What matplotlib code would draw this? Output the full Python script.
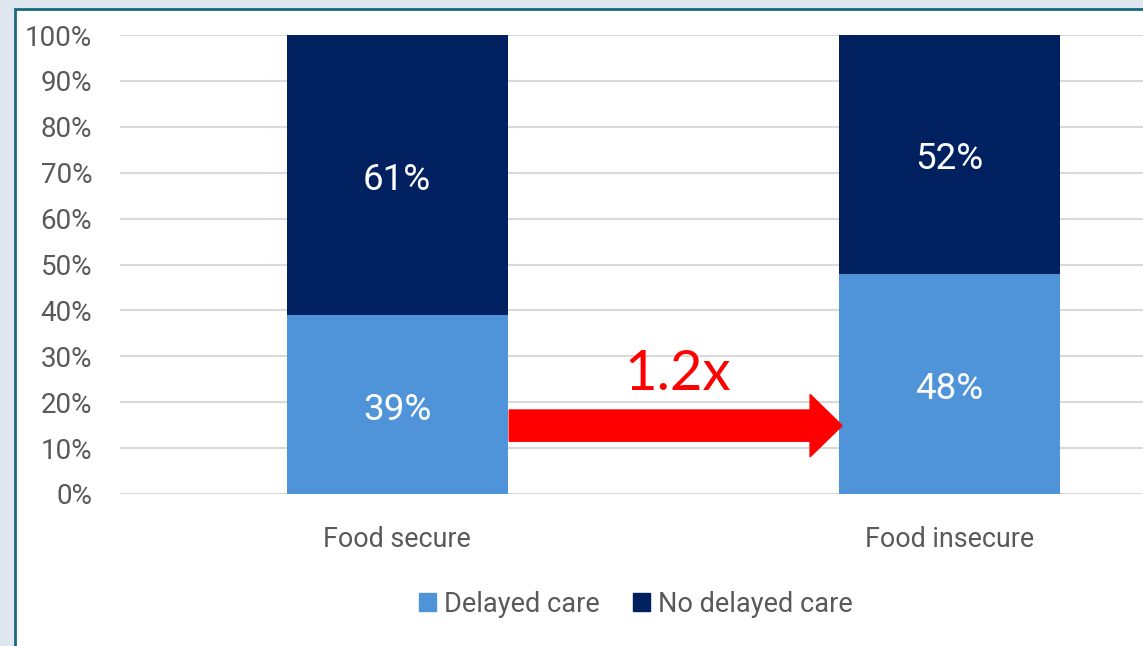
import matplotlib.pyplot as plt
from matplotlib.patches import FancyArrow, Rectangle, Patch
from matplotlib.ticker import PercentFormatter

# data
groups = ['Food secure', 'Food insecure']
delayed = [39, 48]
not_delayed = [61, 52]
ratio_label = '1.2x'

light_blue = '#4f94d8'
navy = '#002060'

plt.rcParams['font.family'] = ['Roboto', 'DejaVu Sans']

fig = plt.figure(figsize=(11.43, 6.46), dpi=100)
fig.patch.set_facecolor('#dfe6ef')
# white card with teal border
fig.patches.append(Rectangle((14.5 / 1143, -0.1), 2, 1.1 - 9.5 / 646,
                             transform=fig.transFigure, facecolor='white',
                             edgecolor='#176a7e', linewidth=2, zorder=-5))

ax = fig.add_axes([120 / 1143, 1 - 494 / 646, 1 - 120 / 1143, (494 - 35) / 646])
ax.set_facecolor('none')

x = range(len(groups))
w = 0.4
ax.bar(x, delayed, width=w, color=light_blue, zorder=2, label='Delayed care')
ax.bar(x, not_delayed, width=w, bottom=delayed, color=navy, zorder=2, label='No delayed care')

for i in x:
    ax.text(i, delayed[i] / 2 - 1.1, f'{delayed[i]}%', ha='center', va='center',
            color='white', fontsize=26.5, zorder=3)
    ax.text(i, delayed[i] + not_delayed[i] / 2 - 1.1, f'{not_delayed[i]}%', ha='center',
            va='center', color='white', fontsize=26.5, zorder=3)

# arrow between bars
x0 = 0 + w / 2 + 0.003
x1 = 1 - w / 2 + 0.006
ax.add_patch(FancyArrow(x0, 14.9, x1 - x0, 0, width=6.8, head_width=13.6,
                        head_length=0.058, length_includes_head=True,
                        color='red', zorder=4))
ax.text((x0 + x1) / 2 + 0.003, 26, ratio_label, ha='center', va='center', color='red',
        fontsize=40.5, family=['Lato', 'DejaVu Sans'])

ax.set_xlim(-0.502, 1.351)
ax.set_ylim(0, 100)
ax.set_yticks(range(0, 101, 10))
ax.yaxis.set_major_formatter(PercentFormatter(decimals=0))
ax.set_xticks(list(x))
ax.set_xticklabels(groups)
ax.tick_params(axis='y', length=0, pad=20, labelsize=20, labelcolor='#595959')
ax.tick_params(axis='x', length=0, pad=23, labelsize=19.4, labelcolor='#595959')
ax.grid(axis='y', color='#d9d9d9', linewidth=1.5, zorder=0)
ax.set_axisbelow(True)
for s in ax.spines.values():
    s.set_visible(False)

handles = [Patch(color=light_blue, label='Delayed care'),
           Patch(color=navy, label='No delayed care')]
fig.legend(handles=handles, loc='center', bbox_to_anchor=(636 / 1143, 1 - 604 / 646),
           ncol=2, frameon=False, fontsize=19.5, handlelength=0.65, handleheight=0.65,
           handletextpad=0.3, columnspacing=1.2, labelcolor='#595959')

fig.savefig('out.png', dpi=100, facecolor=fig.get_facecolor())
